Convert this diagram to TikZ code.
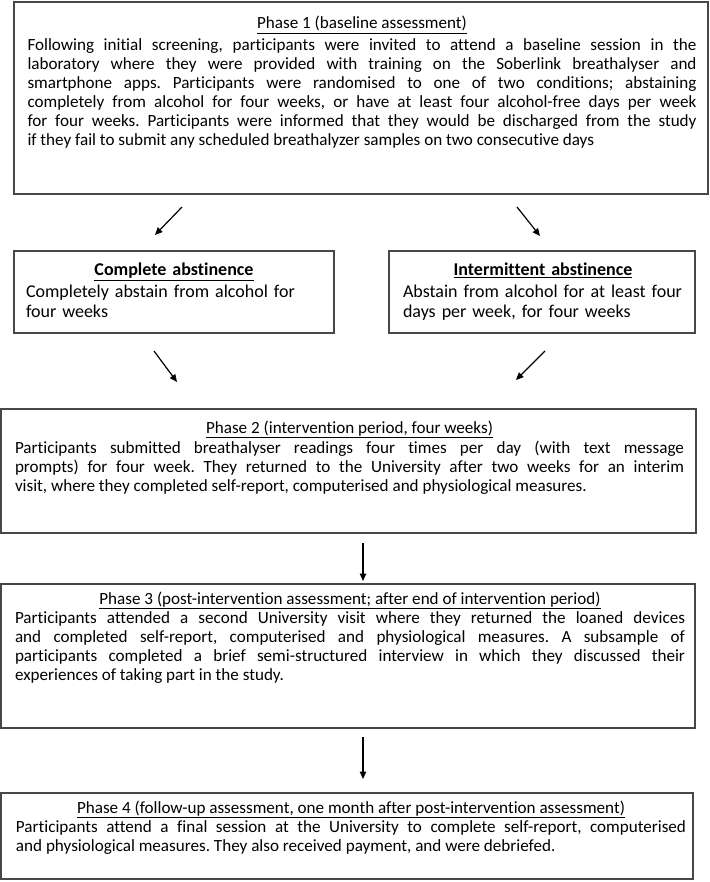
\documentclass[tikz,border=0pt]{standalone}
\usepackage{fontspec}
\setmainfont{Carlito}[Ligatures=NoCommon]
\usetikzlibrary{arrows.meta}
\frenchspacing
\newcommand{\bodyfont}{\fontsize{17.1}{19}\selectfont\frenchspacing}
\newcommand{\smallboxfont}{\fontsize{18}{20}\selectfont\frenchspacing}
\newcommand{\ttl}[1]{\makebox[\linewidth]{\underline{#1}}\par}
\begin{document}
\begin{tikzpicture}[x=1pt,y=-1pt,
  box/.style={draw=black!72, line width=1.3pt, inner sep=0pt, fill=none},
  txt/.style={inner sep=0pt, align=justify, font=\bodyfont, anchor=base},
  ltxt/.style={inner sep=0pt, align=left, font=\smallboxfont, anchor=base},
  arr/.style={line width=1.2pt, -{Triangle[length=7.5pt,width=6.5pt]}}]
\useasboundingbox[fill=white] (0,0) rectangle (709,882);
% boxes
\node[box, minimum width=694pt, minimum height=192pt] (p1) at (361,98) {};
\node[box, minimum width=320pt, minimum height=82pt] (ca) at (174,292) {};
\node[box, minimum width=306pt, minimum height=82pt] (ia) at (542,292) {};
\node[box, minimum width=695pt, minimum height=124pt] (p2) at (348.5,471) {};
\node[box, minimum width=694pt, minimum height=144pt] (p3) at (348,656) {};
\node[box, minimum width=692pt, minimum height=86pt] (p4) at (347,836) {};
% texts
\node[txt, text width=669pt] (p1t) at (362,29) {\ttl{Phase 1 (baseline assessment)}\vspace{3pt}%
Following initial screening, participants were invited to attend a baseline session in the\linebreak
laboratory where they were provided with training on the Soberlink breathalyser and\linebreak
smartphone apps. Participants were randomised to one of two conditions; abstaining\linebreak
completely from alcohol for four weeks, or have at least four alcohol-free days per week\linebreak
for four weeks. Participants were informed that they would be discharged from the study\linebreak
if they fail to submit any scheduled breathalyzer samples on two consecutive days};
\node[ltxt, text width=296pt] (cat) at (174,276) {\makebox[\linewidth]{\underline{\textbf{Complete abstinence}}}\par\vspace{2pt}%
Completely abstain from alcohol for\\four weeks};
\node[ltxt, text width=280pt] (iat) at (543,276) {\makebox[\linewidth]{\underline{\textbf{Intermittent abstinence}}}\par\vspace{2pt}%
Abstain from alcohol for at least four\\days per week, for four weeks};
\node[txt, text width=669pt] (p2t) at (349.5,433) {\ttl{Phase 2 (intervention period, four weeks)}\vspace{1.5pt}%
Participants submitted breathalyser readings four times per day (with text message\linebreak
prompts) for four week. They returned to the University after two weeks for an interim\linebreak
visit, where they completed self-report, computerised and physiological measures.};
\node[txt, text width=670pt] (p3t) at (350,604) {\ttl{Phase 3 (post-intervention assessment; after end of intervention period)}%
Participants attended a second University visit where they returned the loaned devices\linebreak
and completed self-report, computerised and physiological measures. A subsample of\linebreak
participants completed a brief semi-structured interview in which they discussed their\linebreak
experiences of taking part in the study.};
\node[txt, text width=670pt] (p4t) at (351,813) {\ttl{Phase 4 (follow-up assessment, one month after post-intervention assessment)}%
Participants attend a final session at the University to complete self-report, computerised\linebreak
and physiological measures. They also received payment, and were debriefed.};
% arrow ends
\coordinate (a1s) at (182,207); \coordinate (a1e) at (155,235);
\coordinate (a2s) at (517,207); \coordinate (a2e) at (540,236);
\coordinate (a3s) at (154,351); \coordinate (a3e) at (177,382);
\coordinate (a4s) at (545,351); \coordinate (a4e) at (516,380);
\coordinate (a5s) at (363,543); \coordinate (a5e) at (363,581);
\coordinate (a6s) at (363,737); \coordinate (a6e) at (363,779);
\draw[arr] (a1s) -- (a1e);
\draw[arr] (a2s) -- (a2e);
\draw[arr] (a3s) -- (a3e);
\draw[arr] (a4s) -- (a4e);
\draw[arr] (a5s) -- (a5e);
\draw[arr] (a6s) -- (a6e);
\end{tikzpicture}
\end{document}
